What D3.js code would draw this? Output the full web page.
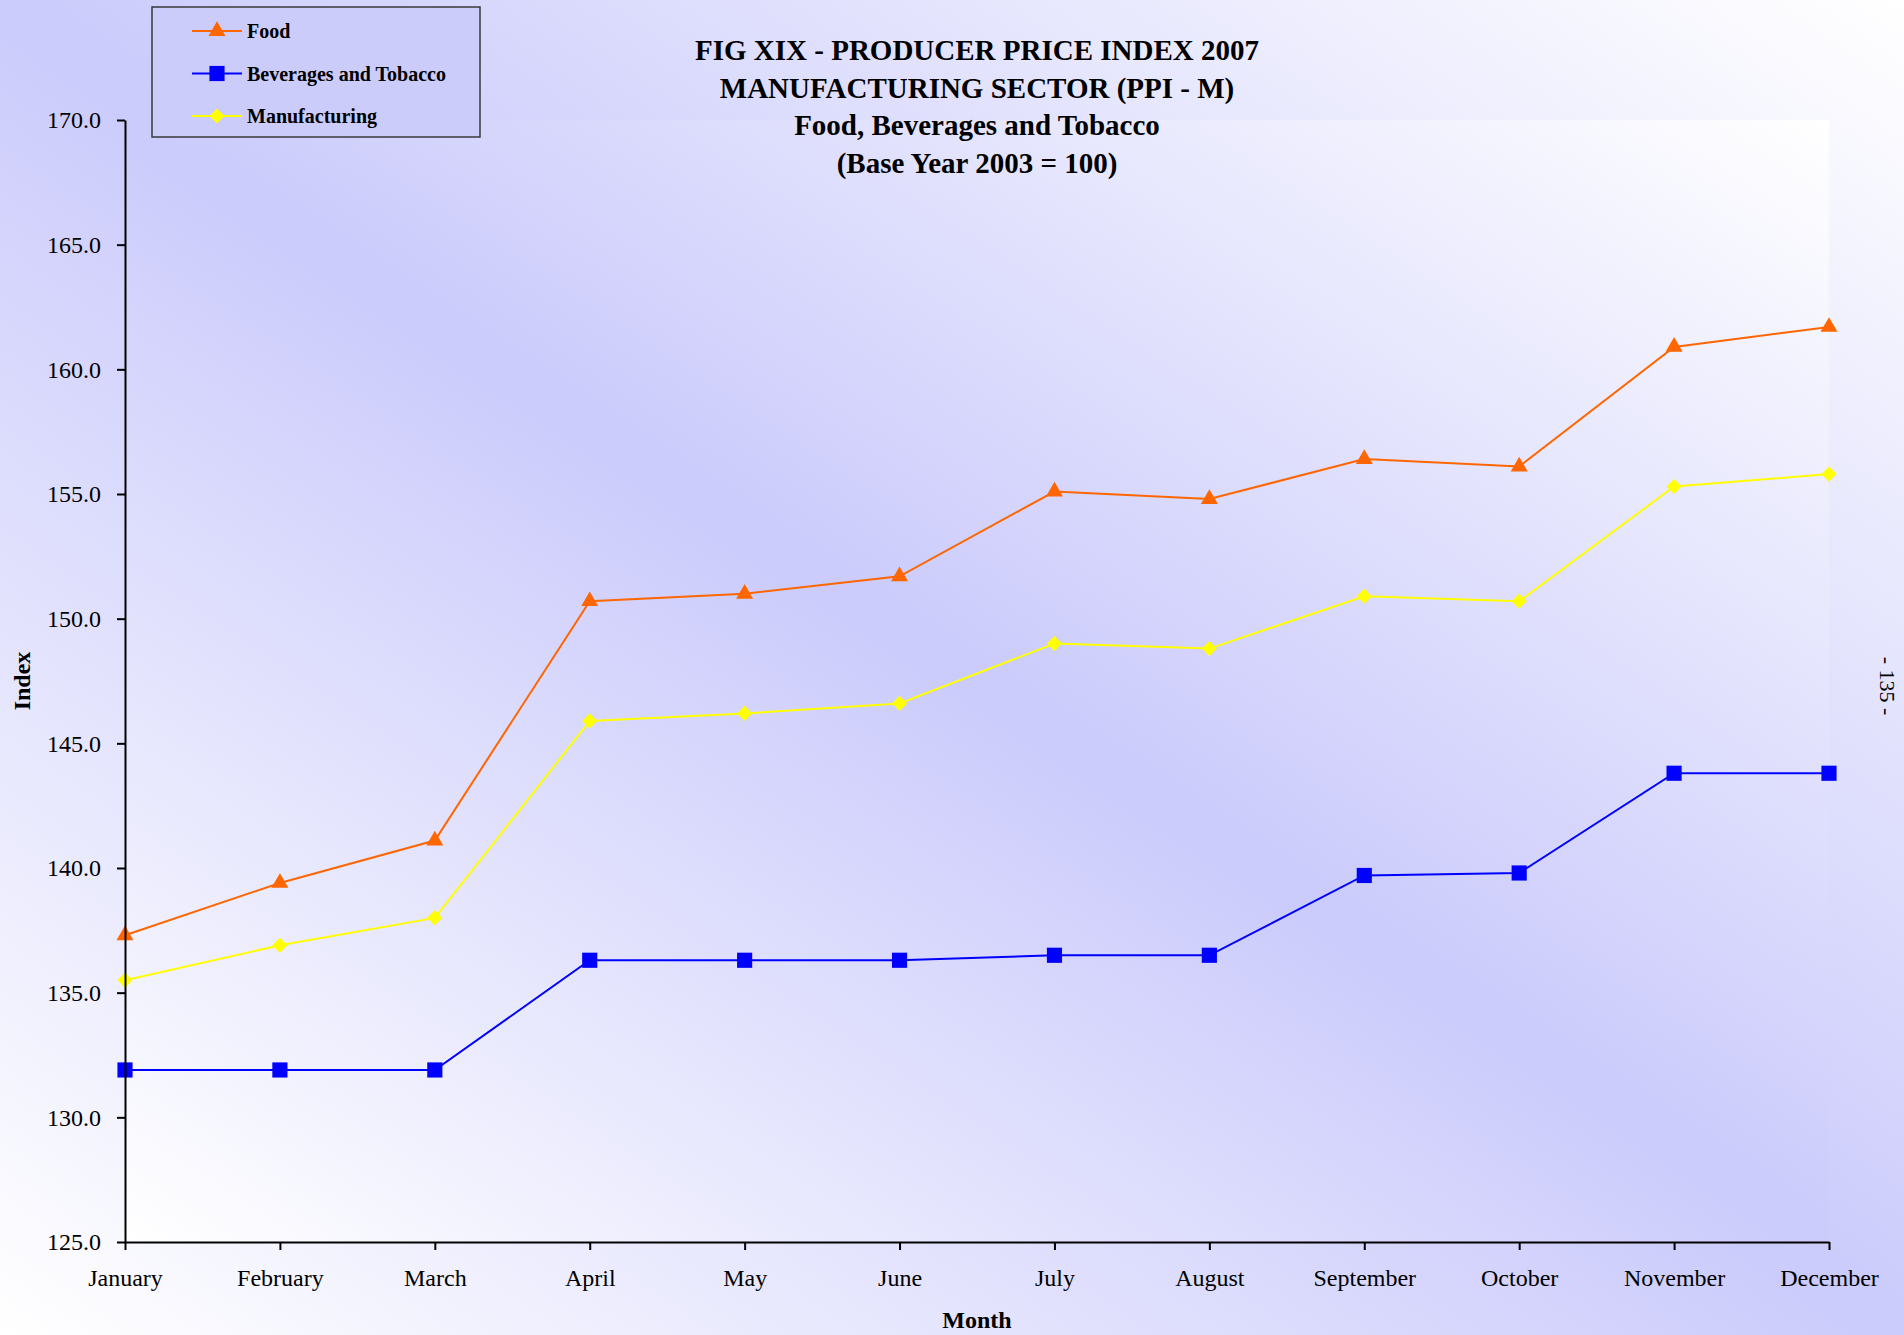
<!DOCTYPE html>
<html>
<head>
<meta charset="utf-8">
<script src="https://cdn.jsdelivr.net/npm/d3@7"></script>
<style>
    body { margin: 0; padding: 0; background: #ffffff; }
    #chart-area { width: 1904px; height: 1335px; }
    text { font-family: "Liberation Serif", "Times New Roman", serif; fill: #000; }
    .axis path, .axis line { stroke: #000; stroke-width: 2px; }
    .axis text { font-size: 24px; }
    .title-line { font-size: 29px; font-weight: bold; }
    .axis-title { font-size: 24px; font-weight: bold; }
    .legend-label { font-size: 20px; font-weight: bold; }
</style>
</head>
<body>
<div id="chart-area"></div>
<script>

// months on the x axis
let months = ["January", "February", "March", "April", "May", "June",
    "July", "August", "September", "October", "November", "December"];

// index values (base year 2003 = 100)
let foodValues = [137.3, 139.4, 141.1, 150.7, 151.0, 151.7, 155.1, 154.8, 156.4, 156.1, 160.9, 161.7];
let beverageValues = [131.9, 131.9, 131.9, 136.3, 136.3, 136.3, 136.5, 136.5, 139.7, 139.8, 143.8, 143.8];
let manufacturingValues = [135.5, 136.9, 138.0, 145.9, 146.2, 146.6, 149.0, 148.8, 150.9, 150.7, 155.3, 155.8];

let seriesNames = ["Food", "Beverages and Tobacco", "Manufacturing"];
let yTicks = [125, 130, 135, 140, 145, 150, 155, 160, 165, 170];

let titleLines = [
    "FIG XIX - PRODUCER PRICE INDEX 2007",
    "MANUFACTURING SECTOR (PPI - M)",
    "Food, Beverages and Tobacco",
    "(Base Year 2003 = 100)"
];


class LineVis {

    constructor(parentElement) {
        this.parentElement = parentElement;
        this.initVis();
    }

    initVis() {
        let vis = this;

        vis.fullWidth = 1904;
        vis.fullHeight = 1335;
        vis.margin = {top: 120, right: 75, bottom: 93, left: 125};
        vis.width = vis.fullWidth - vis.margin.left - vis.margin.right;
        vis.height = vis.fullHeight - vis.margin.top - vis.margin.bottom;

        vis.svg = d3.select("#" + vis.parentElement).append("svg")
            .attr("width", vis.fullWidth)
            .attr("height", vis.fullHeight);

        // diagonal gradients, white at bottom-left and top-right corners
        let defs = vis.svg.append("defs");
        ["bgGrad", "plotGrad"].forEach(id => {
            let g = defs.append("linearGradient")
                .attr("id", id)
                .attr("x1", 0).attr("y1", 1)
                .attr("x2", 1).attr("y2", 0);
            g.append("stop").attr("offset", "0%").attr("stop-color", "#ffffff");
            g.append("stop").attr("offset", "50%").attr("stop-color", "#cbcbfc");
            g.append("stop").attr("offset", "100%").attr("stop-color", "#ffffff");
        });

        vis.svg.append("rect")
            .attr("width", vis.fullWidth)
            .attr("height", vis.fullHeight)
            .attr("fill", "url(#bgGrad)");

        vis.chart = vis.svg.append("g")
            .attr("transform", `translate(${vis.margin.left},${vis.margin.top})`);

        vis.chart.append("rect")
            .attr("width", vis.width)
            .attr("height", vis.height)
            .attr("fill", "url(#plotGrad)");

        vis.colors = {
            "Food": "#ff6600",
            "Beverages and Tobacco": "#0000ff",
            "Manufacturing": "#ffff00"
        };
        vis.symbols = {
            "Food": {type: d3.symbolTriangle, size: 125, rotate: 0},
            "Beverages and Tobacco": {type: d3.symbolSquare, size: 230, rotate: 0},
            "Manufacturing": {type: d3.symbolSquare, size: 115, rotate: 45}
        };

        vis.x = d3.scalePoint()
            .domain(months)
            .range([0, vis.width]);

        vis.y = d3.scaleLinear()
            .domain([125, 170])
            .range([vis.height, 0]);

        vis.xAxis = d3.axisBottom(vis.x)
            .tickSizeInner(8)
            .tickSizeOuter(0)
            .tickPadding(19);

        vis.yAxis = d3.axisLeft(vis.y)
            .tickValues(yTicks)
            .tickSizeInner(8)
            .tickSizeOuter(0)
            .tickPadding(16)
            .tickFormat(d3.format(".1f"));

        vis.lineGroup = vis.chart.append("g").attr("class", "lines");

        vis.chart.append("g")
            .attr("class", "axis x-axis")
            .attr("transform", `translate(0,${vis.height})`)
            .call(vis.xAxis);

        vis.chart.append("g")
            .attr("class", "axis y-axis")
            .call(vis.yAxis);

        // titles
        let cx = vis.margin.left + vis.width / 2;
        vis.svg.append("g").selectAll(".title-line")
            .data(titleLines)
            .enter().append("text")
            .attr("class", "title-line")
            .attr("x", cx)
            .attr("y", (d, i) => 60 + i * 37.5)
            .attr("text-anchor", "middle")
            .text(d => d);

        vis.svg.append("text")
            .attr("class", "axis-title")
            .attr("x", cx)
            .attr("y", 1328)
            .attr("text-anchor", "middle")
            .text("Month");

        vis.svg.append("text")
            .attr("class", "axis-title")
            .attr("transform", `translate(30,${vis.margin.top + vis.height / 2}) rotate(-90)`)
            .attr("text-anchor", "middle")
            .text("Index");

        vis.svg.append("text")
            .attr("transform", "translate(1880,686) rotate(90)")
            .attr("text-anchor", "middle")
            .style("font-size", "22px")
            .text("- 135 -");

        vis.legendGroup = vis.svg.append("g")
            .attr("class", "legendgroup")
            .attr("transform", "translate(152,7)");

        vis.wrangleData();
    }

    wrangleData() {
        let vis = this;

        let valueLists = [foodValues, beverageValues, manufacturingValues];
        vis.displayData = seriesNames.map((name, i) => ({
            name: name,
            values: months.map((m, j) => ({month: m, value: valueLists[i][j]}))
        }));

        vis.updateVis();
    }

    symbolPath(name) {
        let s = this.symbols[name];
        return d3.symbol().type(s.type).size(s.size)();
    }

    updateVis() {
        let vis = this;

        let line = d3.line()
            .x(d => vis.x(d.month))
            .y(d => vis.y(d.value));

        let series = vis.lineGroup.selectAll(".series")
            .data(vis.displayData)
            .enter().append("g")
            .attr("class", "series");

        series.append("path")
            .attr("fill", "none")
            .attr("stroke", d => vis.colors[d.name])
            .attr("stroke-width", 2)
            .attr("d", d => line(d.values));

        series.each(function(s) {
            d3.select(this).selectAll(".marker")
                .data(s.values)
                .enter().append("path")
                .attr("class", "marker")
                .attr("d", vis.symbolPath(s.name))
                .attr("transform", d => `translate(${vis.x(d.month)},${vis.y(d.value)}) rotate(${vis.symbols[s.name].rotate})`)
                .attr("fill", vis.colors[s.name]);
        });

        // legend box
        vis.legendGroup.append("rect")
            .attr("width", 328)
            .attr("height", 130)
            .attr("fill", "#ccccfb")
            .attr("stroke", "#3a3a3a")
            .attr("stroke-width", 1.5);

        let entries = vis.legendGroup.selectAll(".legend-entry")
            .data(seriesNames)
            .enter().append("g")
            .attr("class", "legend-entry")
            .attr("transform", (d, i) => `translate(0,${24 + i * 42.5})`);

        entries.append("line")
            .attr("x1", 40).attr("x2", 90)
            .attr("stroke", d => vis.colors[d])
            .attr("stroke-width", 2);

        entries.append("path")
            .attr("d", d => vis.symbolPath(d))
            .attr("transform", d => `translate(65,0) rotate(${vis.symbols[d].rotate})`)
            .attr("fill", d => vis.colors[d]);

        entries.append("text")
            .attr("class", "legend-label")
            .attr("x", 95)
            .attr("y", 7)
            .text(d => d);
    }
}

let lineVis = new LineVis("chart-area");

</script>
</body>
</html>
